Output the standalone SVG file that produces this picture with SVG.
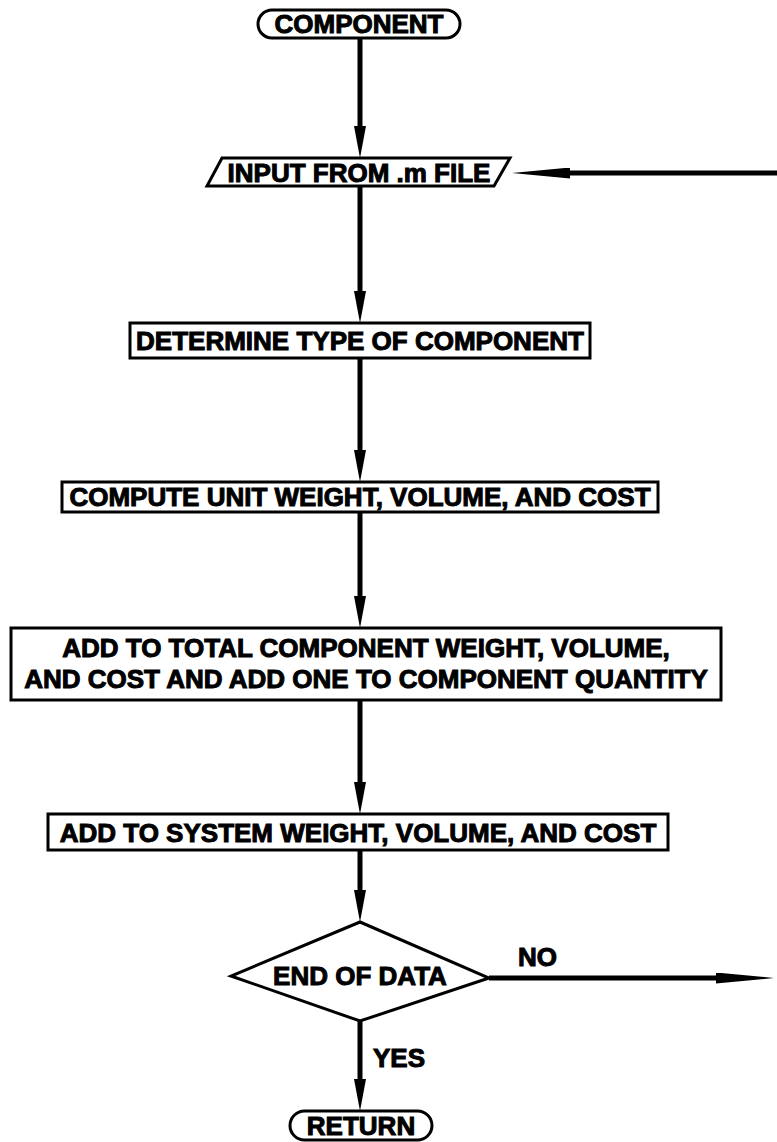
<svg xmlns="http://www.w3.org/2000/svg" width="777" height="1142" viewBox="0 0 777 1142">
<style>
  .shape { fill: #fff; stroke: #000; stroke-width: 3; }
  .lbl { font-family: "Liberation Sans", Arial, sans-serif; font-weight: bold; font-size: 26px; fill: #000; stroke: #000; stroke-width: 1; text-anchor: middle; }
  .tag { font-family: "Liberation Sans", Arial, sans-serif; font-weight: bold; font-size: 26px; fill: #000; stroke: #000; stroke-width: 1; }
  .conn { fill: none; stroke: #000; stroke-width: 5; }
</style>
<defs>
  <marker id="ah" markerUnits="userSpaceOnUse" viewBox="0 0 32 12" markerWidth="32" markerHeight="12" refX="12" refY="6" orient="auto">
    <path d="M0,0 L32,6 L0,12 Z" fill="#000"/>
  </marker>
  <marker id="ahl" markerUnits="userSpaceOnUse" viewBox="0 0 58 11" markerWidth="58" markerHeight="11" refX="0" refY="5.5" orient="auto">
    <path d="M0,0 L58,5.5 L0,11 Z" fill="#000"/>
  </marker>
</defs>
<rect width="777" height="1142" fill="#fff"/>

<g id="connectors">
  <line class="conn" x1="360" y1="38" x2="360" y2="138" marker-end="url(#ah)"/>
  <line class="conn" x1="777" y1="173" x2="570" y2="173" marker-end="url(#ahl)"/>
  <line class="conn" x1="360" y1="186" x2="360" y2="303" marker-end="url(#ah)"/>
  <line class="conn" x1="360" y1="358" x2="360" y2="462" marker-end="url(#ah)"/>
  <line class="conn" x1="360" y1="512" x2="360" y2="608" marker-end="url(#ah)"/>
  <line class="conn" x1="360" y1="700" x2="360" y2="794" marker-end="url(#ah)"/>
  <line class="conn" x1="360" y1="850" x2="360" y2="902" marker-end="url(#ah)"/>
  <line class="conn" x1="489" y1="978" x2="716" y2="978" marker-end="url(#ahl)"/>
  <line class="conn" x1="360" y1="1021" x2="360" y2="1091" marker-end="url(#ah)"/>
  <text class="tag" x="518" y="966">NO</text>
  <text class="tag" x="373" y="1067">YES</text>
</g>

<g id="start">
  <rect class="shape" x="258" y="10" width="202" height="28" rx="14"/>
  <text class="lbl" x="359" y="33">COMPONENT</text>
</g>

<g id="input">
  <polygon class="shape" points="222,158 510,158 494,186 207,186"/>
  <text class="lbl" x="359" y="182">INPUT FROM .m FILE</text>
</g>

<g id="determine">
  <rect class="shape" x="130" y="323" width="460" height="35"/>
  <text class="lbl" x="360" y="350">DETERMINE TYPE OF COMPONENT</text>
</g>

<g id="compute">
  <rect class="shape" x="62" y="482" width="596" height="30"/>
  <text class="lbl" x="360" y="506">COMPUTE UNIT WEIGHT, VOLUME, AND COST</text>
</g>

<g id="addtotal">
  <rect class="shape" x="11" y="628" width="710" height="72"/>
  <text class="lbl" x="366" y="657">ADD TO TOTAL COMPONENT WEIGHT, VOLUME,</text>
  <text class="lbl" x="366" y="688">AND COST AND ADD ONE TO COMPONENT QUANTITY</text>
</g>

<g id="addsystem">
  <rect class="shape" x="48" y="814" width="620" height="36"/>
  <text class="lbl" x="358" y="842">ADD TO SYSTEM WEIGHT, VOLUME, AND COST</text>
</g>

<g id="decision">
  <polygon class="shape" points="360,922 489,978 360,1021 231,976"/>
  <text class="lbl" x="360" y="985">END OF DATA</text>
</g>

<g id="return">
  <rect class="shape" x="290" y="1111" width="142" height="29" rx="14.5"/>
  <text class="lbl" x="361" y="1135">RETURN</text>
</g>
</svg>
